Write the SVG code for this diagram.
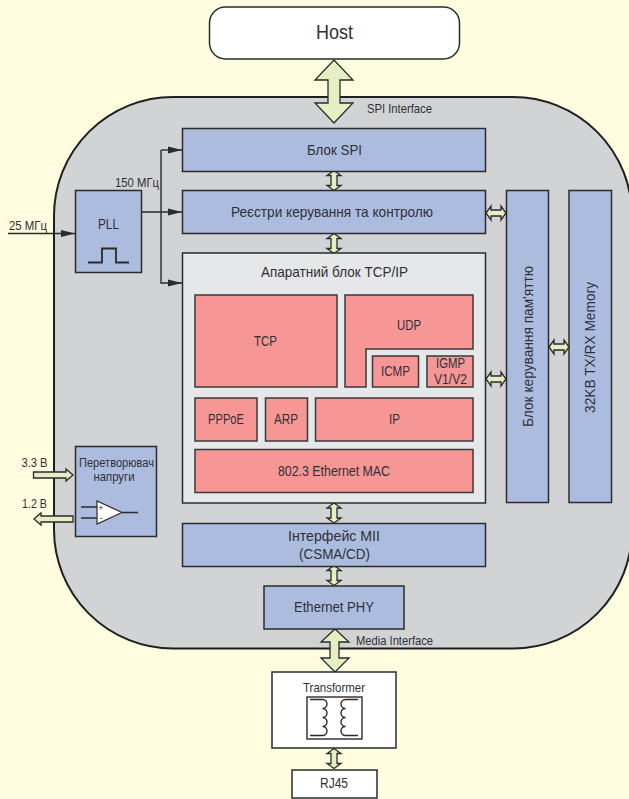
<svg xmlns="http://www.w3.org/2000/svg" width="629" height="799" viewBox="0 0 629 799">
<style>
text{font-family:"Liberation Sans",Arial,sans-serif;fill:#2f3036;text-anchor:middle}
.b{fill:#acbcdf;stroke:#2b2b2b;stroke-width:1.5}
.r{fill:#f69796;stroke:#3a3a3a;stroke-width:1.5}
.w{fill:#fff;stroke:#2b2b2b;stroke-width:1.5}
.ar{fill:#e6eec4;stroke:#2b2b2b;stroke-width:1.3}
.l{fill:none;stroke:#2b2b2b;stroke-width:1.4}
.t12{font-size:13px}.t14{font-size:15px}.t18{font-size:20px}
</style>
<defs>
<marker id="h" markerWidth="15" markerHeight="8" refX="14" refY="4" orient="auto" markerUnits="userSpaceOnUse"><path d="M0 0.500L14 4L0 7.500Z" fill="#2b2b2b"/></marker>
<path id="vs" class="ar" d="M0 -10L7 -5H3V5H7L0 10L-7 5H-3V-5H-7Z"/>
<path id="hs" class="ar" d="M-10 0L-5 -7V-3H5V-7L10 0L5 7V3H-5V7Z"/>
</defs>
<rect width="629" height="799" fill="#fffcdf"/>
<rect id="chip" x="54" y="97" width="578" height="551.500" rx="119" ry="119" fill="#d1d3d4" stroke="#1f1f1f" stroke-width="2"/>
<g id="connectors">
<path class="l" d="M8 233.500H75" marker-end="url(#h)"/>
<path class="l" d="M142 212H182" marker-end="url(#h)"/>
<path class="l" d="M161 150V283H182" marker-end="url(#h)"/>
<path class="l" d="M161 150H182" marker-end="url(#h)"/>
<path class="ar" d="M334 60L353 80H340V103H353L334 123L315 103H328V80H315Z"/>
<use href="#vs" x="334" y="180.500"/>
<use href="#vs" x="334" y="243.500"/>
<use href="#vs" x="334" y="513"/>
<use href="#vs" x="334" y="575.500"/>
<use href="#vs" x="334" y="758.500"/>
<path class="ar" d="M335 629L349 642H339V658H349L335 672L321 658H330V642H321Z"/>
<use href="#hs" x="496" y="213"/>
<use href="#hs" x="496" y="379"/>
<use href="#hs" x="559" y="347"/>
<path class="ar" d="M33.500 472H66V469L73 475L66 481V478H33.500Z"/>
<path class="ar" d="M73 516H41V513L34 519L41 525V522H73Z"/>
</g>
<g id="host"><rect class="w" x="209.500" y="7" width="250" height="52" rx="16"/><text class="t18" x="334.500" y="39" textLength="37" lengthAdjust="spacingAndGlyphs">Host</text></g>
<g id="spi"><rect class="b" x="182.500" y="128.500" width="303" height="43"/><text class="t14" x="334.500" y="155" textLength="55" lengthAdjust="spacingAndGlyphs">Блок SPI</text></g>
<g id="regs"><rect class="b" x="182.500" y="190.500" width="303" height="43"/><text class="t14" x="332" y="217" textLength="202" lengthAdjust="spacingAndGlyphs">Реєстри керування та контролю</text></g>
<g id="pll"><rect class="b" x="75.500" y="190.500" width="66" height="82"/><text class="t14" x="108.500" y="229" textLength="21" lengthAdjust="spacingAndGlyphs">PLL</text><path class="l" d="M88 262.500H102V248.500H116V262.500H129" style="stroke-width:1.800"/></g>
<g id="tcpip"><rect x="182.500" y="253" width="303" height="250" fill="#e6e7e8" stroke="#2b2b2b" stroke-width="1.500"/><text class="t14" x="334.500" y="277" textLength="147" lengthAdjust="spacingAndGlyphs">Апаратний блок TCP/IP</text></g>
<g id="tcp"><rect class="r" x="195" y="295" width="142" height="92"/><text class="t14" x="265.500" y="346" textLength="23" lengthAdjust="spacingAndGlyphs">TCP</text></g>
<g id="udp"><path class="r" d="M345 295H473V349H366V387H345Z"/><text class="t14" x="409" y="330" textLength="24" lengthAdjust="spacingAndGlyphs">UDP</text></g>
<g id="icmp"><rect class="r" x="372.500" y="356" width="46" height="31"/><text class="t14" x="395.500" y="376" textLength="29" lengthAdjust="spacingAndGlyphs">ICMP</text></g>
<g id="igmp"><rect class="r" x="427" y="356" width="46" height="31"/><text class="t14" x="450.500" y="368" textLength="29" lengthAdjust="spacingAndGlyphs">IGMP</text><text class="t14" x="450.500" y="384" textLength="33" lengthAdjust="spacingAndGlyphs">V1/V2</text></g>
<g id="pppoe"><rect class="r" x="195" y="398" width="62" height="43"/><text class="t14" x="226" y="424" textLength="36" lengthAdjust="spacingAndGlyphs">PPPoE</text></g>
<g id="arp"><rect class="r" x="265.500" y="398" width="42" height="43"/><text class="t14" x="286" y="424" textLength="24" lengthAdjust="spacingAndGlyphs">ARP</text></g>
<g id="ip"><rect class="r" x="315.500" y="398" width="157.500" height="43"/><text class="t14" x="394.500" y="424" textLength="11" lengthAdjust="spacingAndGlyphs">IP</text></g>
<g id="mac"><rect class="r" x="195" y="449.500" width="278" height="43"/><text class="t14" x="334" y="476" textLength="112" lengthAdjust="spacingAndGlyphs">802.3 Ethernet MAC</text></g>
<g id="mii"><rect class="b" x="182.500" y="523.500" width="303" height="43"/><text class="t14" x="334" y="541" textLength="92" lengthAdjust="spacingAndGlyphs">Інтерфейс MII</text><text class="t14" x="334.500" y="559" textLength="71" lengthAdjust="spacingAndGlyphs">(CSMA/CD)</text></g>
<g id="phy"><rect class="b" x="264" y="586" width="140" height="43"/><text class="t14" x="334" y="612" textLength="80" lengthAdjust="spacingAndGlyphs">Ethernet PHY</text></g>
<g id="memctl"><rect class="b" x="506.500" y="190.500" width="42" height="312"/><text class="t14" transform="translate(533,346.500) rotate(-90)" textLength="161" lengthAdjust="spacingAndGlyphs">Блок керування пам'яттю</text></g>
<g id="mem"><rect class="b" x="569" y="190.500" width="42.500" height="312"/><text class="t14" transform="translate(595,347.500) rotate(-90)" textLength="131" lengthAdjust="spacingAndGlyphs">32KB TX/RX Memory</text></g>
<g id="conv"><rect class="b" x="75.500" y="446.500" width="81" height="90"/><text class="t12" x="116.500" y="467" textLength="75" lengthAdjust="spacingAndGlyphs">Перетворювач</text><text class="t12" x="114" y="481" textLength="41" lengthAdjust="spacingAndGlyphs">напруги</text>
<path class="l" d="M81 507H97M81 518H97M122 512.500H138"/><path d="M97 501V524L122 512.500Z" fill="#fff" stroke="#2b2b2b" stroke-width="1.200"/><text x="101" y="510.500" style="font-size:9px">+</text><text x="101" y="521" style="font-size:9px">-</text></g>
<g id="transformer"><rect class="w" x="272" y="672" width="124" height="76"/><text class="t12" x="334" y="692" textLength="62" lengthAdjust="spacingAndGlyphs">Transformer</text><rect x="307" y="697" width="55" height="42" fill="#fff" stroke="#2b2b2b" stroke-width="1.400"/>
<path class="l" d="M310 699.500H322.500a4.500 4.500 0 0 1 0 9a4.500 4.500 0 0 1 0 9a4.500 4.500 0 0 1 0 9a4.500 4.500 0 0 1 0 9H310"/>
<path class="l" d="M358 699.500H345.500a4.500 4.500 0 0 0 0 9a4.500 4.500 0 0 0 0 9a4.500 4.500 0 0 0 0 9a4.500 4.500 0 0 0 0 9H358"/></g>
<g id="rj45"><rect class="w" x="292" y="770" width="85" height="28"/><text class="t14" x="334" y="788" textLength="28" lengthAdjust="spacingAndGlyphs">RJ45</text></g>
<g id="labels">
<text class="t12" x="399.500" y="113" textLength="65" lengthAdjust="spacingAndGlyphs">SPI Interface</text>
<text class="t12" x="394.500" y="645" textLength="77" lengthAdjust="spacingAndGlyphs">Media Interface</text>
<text class="t12" x="137" y="187" textLength="44" lengthAdjust="spacingAndGlyphs">150 МГц</text>
<text class="t12" x="28" y="230" textLength="38" lengthAdjust="spacingAndGlyphs">25 МГц</text>
<text class="t12" x="34.500" y="467" textLength="26" lengthAdjust="spacingAndGlyphs">3.3 В</text>
<text class="t12" x="34.500" y="508" textLength="25" lengthAdjust="spacingAndGlyphs">1.2 В</text>
</g>
</svg>
